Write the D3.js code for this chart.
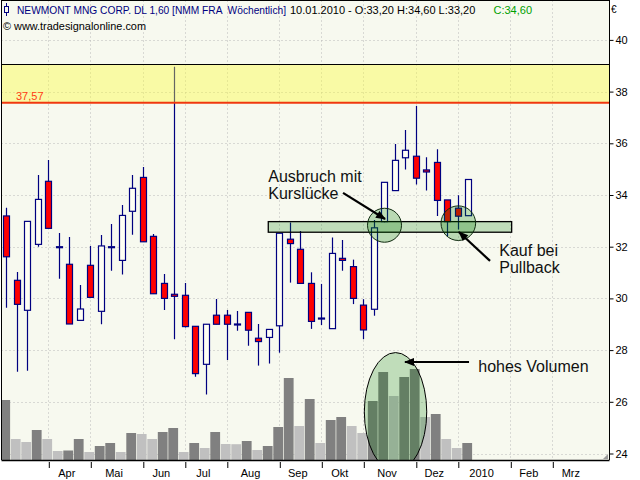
<!DOCTYPE html>
<html><head><meta charset="utf-8">
<script src="https://cdn.jsdelivr.net/npm/d3@7"></script>
<style>body{margin:0;background:#fff}svg{display:block}text{font-family:"Liberation Sans",Arial,sans-serif}</style>
</head><body><div id="chart"></div>
<script>
// ---- data (weekly candles, NEWMONT MNG CORP, Frankfurt, week index 0 = early March 2009) ----
const open  = [33.19,30.70,29.54,32.09,34.53,32.00,31.32,29.15,31.28,29.50,32.00,31.47,33.37,34.68,32.40,30.58,30.16,30.12,28.92,27.45,29.35,29.35,29.01,29.46,28.46,28.49,28.94,32.29,31.90,30.58,29.24,28.83,31.55,31.23,29.74,29.58,32.97,34.17,35.44,35.50,34.97,35.26,33.81,33.49,33.20];
const high  = [33.51,31.02,32.98,34.77,35.35,32.53,32.38,30.52,32.03,32.45,32.88,33.61,34.77,35.08,32.49,30.94,38.96,30.60,28.92,29.00,29.98,29.55,29.51,29.46,29.01,28.80,32.52,32.94,32.61,31.01,30.56,32.36,32.26,31.50,29.97,33.03,34.49,35.97,36.51,37.44,35.46,35.77,33.81,33.99,34.60];
const low   = [29.64,27.16,27.20,32.00,32.71,30.76,29.01,29.15,30.04,29.00,31.07,30.92,32.46,32.19,30.18,29.55,28.42,28.87,26.97,26.28,29.00,27.62,28.75,28.17,27.40,27.48,27.90,30.61,30.58,28.82,28.97,28.83,31.07,29.78,28.42,29.33,32.95,34.17,34.99,34.41,34.17,33.19,32.40,32.67,33.20];
const close = [31.61,29.77,32.98,33.83,32.71,32.00,29.01,29.59,30.04,32.03,32.00,33.21,34.26,32.19,30.18,30.00,30.08,28.91,27.09,29.00,29.00,29.00,29.01,28.77,28.33,28.80,32.52,32.12,30.58,29.11,29.24,31.74,31.47,30.00,28.78,32.73,34.49,35.34,35.73,34.65,34.89,33.79,32.97,33.18,34.60];
const volume = [60,21,18,30,21,9,9.5,21,8,14,17,8,27,26,21,28,32,8,17,12,28,16,15.8,19,10,14,33,82,34,61,17,40,43,34,27,59,88,64,83,91,43,46,21,12,17];
const monthLabels = ["Apr","Mai","Jun","Jul","Aug","Sep","Okt","Nov","Dez","2010","Feb","Mrz"];
const monthStartWeek = [4,8,13,17,21,26,30,34,39,43,48,52,56];
const priceTicks = [24,26,28,30,32,34,36,38,40];
const resistance = 37.57;
const resistanceZoneTop = 39.05;
const supportZone = {from:24.95, to:48.13, low:32.56, high:32.97};
const headerTitle = "NEWMONT MNG CORP. DL 1,60 [NMM FRA  Wöchentlich]";
const headerOHL = "10.01.2010 - O:33,20 H:34,60 L:33,20";
const headerClose = "C:34,60";

// ---- layout ----
const W = 640, H = 480;
const L = 1.5, R = 609, T = 0.5, B = 460;
const x = d3.scaleLinear().domain([0, 44]).range([6.3, 468.3]);
const y = d3.scaleLinear().domain([24, 36]).range([453.5, 143.3]);
const vy = d3.scaleLinear().domain([0, 100]).range([B, B - 100]);

const svg = d3.select("#chart").append("svg").attr("width", W).attr("height", H);
svg.append("rect").attr("width", W).attr("height", H).attr("fill", "#fff");
svg.append("defs").append("clipPath").attr("id", "plotclip")
  .append("rect").attr("x", L).attr("y", T).attr("width", R - L).attr("height", B - T);
const defs = svg.select("defs");
defs.append("marker").attr("id", "ah").attr("viewBox", "0 0 10 8")
  .attr("markerUnits", "userSpaceOnUse").attr("markerWidth", 11).attr("markerHeight", 8)
  .attr("refX", 9).attr("refY", 4).attr("orient", "auto")
  .append("path").attr("d", "M0,0L10,4L0,8Z").attr("fill", "#000");

svg.append("rect").attr("x", L).attr("y", T).attr("width", R - L).attr("height", B - T).attr("fill", "#F7F9EF");

const plot = svg.append("g").attr("clip-path", "url(#plotclip)");

// grid
const gridC = "#B9B9B9";
plot.append("g").selectAll("line").data(priceTicks).join("line")
  .attr("x1", L).attr("x2", R).attr("y1", d => Math.round(y(d)) + 0.5).attr("y2", d => Math.round(y(d)) + 0.5)
  .attr("stroke", gridC).attr("stroke-dasharray", "1,3");
plot.append("g").selectAll("line").data(monthStartWeek.slice(0, 12)).join("line")
  .attr("x1", d => Math.round(x(d)) + 0.5).attr("x2", d => Math.round(x(d)) + 0.5).attr("y1", T).attr("y2", B)
  .attr("stroke", gridC).attr("stroke-dasharray", "1,3");

// volume
plot.append("g").selectAll("rect").data(volume).join("rect")
  .attr("x", (d, i) => x(i) - 6).attr("width", 9.8)
  .attr("y", d => vy(d)).attr("height", d => B - vy(d))
  .attr("fill", (d, i) => (i === 0 || d >= volume[i - 1]) ? "#808080" : "#C0C0C0");

// candles
const cg = plot.append("g");
const idx = d3.range(open.length);
cg.selectAll("line").data(idx).join("line")
  .attr("x1", i => Math.round(x(i)) + 0.5).attr("x2", i => Math.round(x(i)) + 0.5)
  .attr("y1", i => y(high[i])).attr("y2", i => y(low[i]))
  .attr("stroke", "#000080").attr("stroke-width", 1.2);
cg.selectAll("rect").data(idx).join("rect")
  .attr("x", i => Math.round(x(i)) - 2.5).attr("width", 6)
  .attr("y", i => y(Math.max(open[i], close[i])))
  .attr("height", i => Math.max(1, Math.abs(y(open[i]) - y(close[i]))))
  .attr("fill", i => close[i] < open[i] ? "#FF0000" : "#FFFFF4")
  .attr("stroke", "#000080").attr("stroke-width", 1.2);

// resistance zone (translucent yellow)
plot.append("rect").attr("x", L).attr("width", R - L)
  .attr("y", y(resistanceZoneTop)).attr("height", y(resistance) - y(resistanceZoneTop))
  .attr("fill", "rgb(252,252,56)").attr("fill-opacity", 0.4);
plot.append("line").attr("x1", L).attr("x2", R)
  .attr("y1", Math.round(y(resistanceZoneTop)) + 0.5).attr("y2", Math.round(y(resistanceZoneTop)) + 0.5)
  .attr("stroke", "#000").attr("stroke-width", 1);
plot.append("line").attr("x1", L).attr("x2", R)
  .attr("y1", y(resistance)).attr("y2", y(resistance))
  .attr("stroke", "#F0380F").attr("stroke-width", 2);
svg.append("text").attr("x", 16).attr("y", y(resistance) - 3).attr("fill", "#FF3C14")
  .attr("font-size", 11).text("37,57");

// support band + circles + ellipse
const green = "rgb(0,125,0)";
plot.append("rect").attr("x", x(supportZone.from)).attr("width", x(supportZone.to) - x(supportZone.from))
  .attr("y", y(supportZone.high)).attr("height", y(supportZone.low) - y(supportZone.high))
  .attr("fill", green).attr("fill-opacity", 0.22).attr("stroke", "#000").attr("stroke-width", 1.3);
const circles = [{i: 36.02, p: 32.83, r: 17}, {i: 43.05, p: 32.91, r: 17.3}];
plot.append("g").selectAll("circle").data(circles).join("circle")
  .attr("cx", d => x(d.i)).attr("cy", d => y(d.p)).attr("r", d => d.r)
  .attr("fill", green).attr("fill-opacity", 0.25).attr("stroke", "#0f2a0f").attr("stroke-width", 1);
plot.append("ellipse").attr("cx", x(37.07)).attr("cy", y(25.61)).attr("rx", 31.2).attr("ry", 59.3)
  .attr("fill", green).attr("fill-opacity", 0.22).attr("stroke", "#000").attr("stroke-width", 1);

// arrows
const arrows = [
  {i1: 32.07, p1: 34.08, i2: 36.07, p2: 33.07},
  {i1: 46.07, p1: 31.45, i2: 43.11, p2: 32.57},
  {i1: 44.07, p1: 27.54, i2: 37.97, p2: 27.54}
];
plot.append("g").selectAll("line").data(arrows).join("line")
  .attr("x1", d => x(d.i1)).attr("y1", d => y(d.p1)).attr("x2", d => x(d.i2)).attr("y2", d => y(d.p2))
  .attr("stroke", "#000").attr("stroke-width", 2.2).attr("marker-end", "url(#ah)");

// annotation texts
const notes = [
  {t: "Ausbruch mit", i: 24.95, p: 34.51},
  {t: "Kurslücke", i: 24.95, p: 33.85},
  {t: "Kauf bei", i: 46.95, p: 31.64},
  {t: "Pullback", i: 46.95, p: 30.97},
  {t: "hohes Volumen", i: 44.95, p: 27.16}
];
svg.append("g").selectAll("text").data(notes).join("text")
  .attr("x", d => x(d.i)).attr("y", d => y(d.p)).attr("font-size", 16).attr("fill", "#111").text(d => d.t);

// plot frame
svg.append("line").attr("x1", L).attr("x2", L).attr("y1", 0).attr("y2", B).attr("stroke", "#000");
svg.append("line").attr("x1", R + 0.5).attr("x2", R + 0.5).attr("y1", 0).attr("y2", B).attr("stroke", "#000");
svg.append("line").attr("x1", L).attr("x2", R).attr("y1", 0.5).attr("y2", 0.5).attr("stroke", "#000");
svg.append("line").attr("x1", L).attr("x2", R + 0.5).attr("y1", B + 0.5).attr("y2", B + 0.5).attr("stroke", "#000").attr("stroke-width", 1.3);
// resize grip
svg.append("path").attr("d", `M${R - 6},${B - 1}L${R - 1},${B - 6}L${R - 1},${B - 1}Z`).attr("fill", "#9a9a9a");

// right axis
const ya = svg.append("g").attr("transform", `translate(${R + 0.5},0)`)
  .call(d3.axisRight(y).tickValues(priceTicks).tickSize(4).tickPadding(2).tickFormat(d3.format("d")));
ya.select(".domain").remove();
ya.selectAll("text").attr("font-size", 11).attr("font-family", "Liberation Sans, Arial, sans-serif").attr("fill", "#000");
ya.selectAll("line").attr("stroke", "#000");
svg.append("text").attr("x", 611).attr("y", 13).attr("font-size", 10).text("€");

// bottom axis (month ticks + labels centred in the month)
const xa = svg.append("g").attr("transform", `translate(0,${B})`)
  .call(d3.axisBottom(x).tickValues(monthStartWeek.slice(0, 12)).tickSize(6).tickFormat(""));
xa.select(".domain").remove();
xa.selectAll("line").attr("stroke", "#000").attr("transform", "translate(0.5,2)");
svg.append("g").selectAll("text").data(monthLabels).join("text")
  .attr("x", (d, k) => (x(monthStartWeek[k]) + x(monthStartWeek[k + 1])) / 2 - 2.5)
  .attr("y", 477).attr("text-anchor", "middle").attr("font-size", 11).attr("fill", "#000").text(d => d);

// header
const hd = svg.append("g");
hd.append("line").attr("x1", 6.5).attr("x2", 6.5).attr("y1", 3).attr("y2", 16).attr("stroke", "#000080");
hd.append("rect").attr("x", 4.5).attr("y", 6.5).attr("width", 4).attr("height", 6).attr("fill", "#F7F9EF").attr("stroke", "#000080");
hd.append("text").attr("x", 17).attr("y", 14).attr("font-size", 11).attr("fill", "#000080")
  .style("white-space", "pre").attr("textLength", 269).attr("lengthAdjust", "spacingAndGlyphs").text(headerTitle);
hd.append("text").attr("x", 290).attr("y", 14).attr("font-size", 11).attr("fill", "#000").text(headerOHL);
hd.append("text").attr("x", 532).attr("y", 14).attr("text-anchor", "end").attr("font-size", 11).attr("fill", "#00A000").text(headerClose);
hd.append("text").attr("x", 3).attr("y", 29.5).attr("font-size", 11).attr("fill", "#000")
  .attr("textLength", 143).attr("lengthAdjust", "spacingAndGlyphs").text("© www.tradesignalonline.com");
</script></body></html>
